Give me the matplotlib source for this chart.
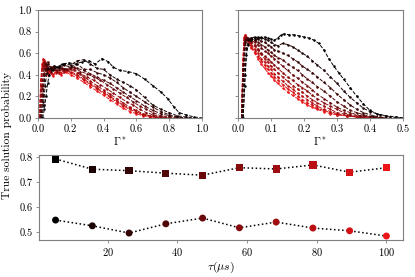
import numpy as np
import matplotlib
matplotlib.use("Agg")
import matplotlib.pyplot as plt
from matplotlib.colors import LinearSegmentedColormap

plt.rcParams['font.family'] = 'serif'
plt.rcParams['font.serif'] = ['cmr10', 'DejaVu Serif']
plt.rcParams['mathtext.fontset'] = 'cm'
plt.rcParams['axes.formatter.use_mathtext'] = True

# ---------------- data ----------------
tau_us = [5.0, 15.56, 26.11, 36.67, 47.22, 57.78, 68.33, 78.89, 89.44, 100.0]
prob_square = [0.793, 0.752, 0.746, 0.736, 0.728, 0.758, 0.753, 0.769, 0.740, 0.758]
prob_circle = [0.548, 0.525, 0.496, 0.533, 0.556, 0.517, 0.540, 0.516, 0.505, 0.484]

left_gamma = [
    [0.03,0.04,0.05,0.06,0.07,0.09,0.12,0.15,0.19,0.23,0.27,0.31,0.35,0.39,0.43,0.46,0.5,0.55,0.6,0.65,0.7,0.75,0.79,0.83,0.86,0.9,0.95,1.0],
    [0.025,0.035,0.045,0.055,0.065,0.08,0.1,0.13,0.16,0.2,0.24,0.28,0.32,0.36,0.4,0.44,0.48,0.52,0.56,0.6,0.65,0.7,0.75,0.8,0.85,0.9,0.95],
    [0.02,0.03,0.04,0.05,0.06,0.08,0.1,0.13,0.16,0.2,0.24,0.28,0.32,0.36,0.4,0.44,0.48,0.52,0.56,0.6,0.65,0.7,0.75,0.8,0.85,0.9],
    [0.02,0.03,0.04,0.05,0.06,0.08,0.1,0.13,0.16,0.2,0.24,0.28,0.32,0.36,0.4,0.44,0.48,0.52,0.56,0.6,0.65,0.7,0.75,0.8,0.85,0.9],
    [0.015,0.025,0.035,0.045,0.055,0.07,0.09,0.12,0.15,0.18,0.22,0.26,0.3,0.34,0.38,0.42,0.46,0.5,0.54,0.58,0.62,0.66,0.7,0.75,0.8,0.85],
    [0.015,0.025,0.035,0.045,0.055,0.07,0.09,0.12,0.15,0.18,0.22,0.26,0.3,0.34,0.38,0.42,0.46,0.5,0.54,0.58,0.62,0.66,0.7,0.75,0.8,0.85],
    [0.012,0.02,0.03,0.04,0.05,0.06,0.08,0.1,0.13,0.16,0.2,0.24,0.28,0.32,0.36,0.4,0.44,0.48,0.52,0.56,0.6,0.64,0.68,0.72,0.78],
    [0.012,0.02,0.03,0.04,0.05,0.06,0.08,0.1,0.13,0.16,0.2,0.24,0.28,0.32,0.36,0.4,0.44,0.48,0.52,0.56,0.6,0.64,0.68,0.72,0.78],
    [0.01,0.018,0.026,0.034,0.042,0.05,0.06,0.075,0.09,0.11,0.14,0.17,0.2,0.24,0.28,0.32,0.36,0.4,0.44,0.48,0.52,0.56,0.6,0.64,0.68,0.72],
    [0.01,0.018,0.026,0.034,0.042,0.05,0.06,0.075,0.09,0.11,0.14,0.17,0.2,0.24,0.28,0.32,0.36,0.4,0.44,0.48,0.52,0.56,0.6,0.64,0.68,0.72],
]
left_prob = [
    [0.0,0.08,0.2,0.32,0.4,0.44,0.47,0.5,0.51,0.5,0.52,0.53,0.5,0.55,0.52,0.47,0.44,0.43,0.41,0.36,0.3,0.24,0.18,0.1,0.05,0.03,0.01,0.0],
    [0.0,0.12,0.3,0.42,0.46,0.45,0.48,0.47,0.5,0.49,0.53,0.54,0.5,0.46,0.45,0.4,0.36,0.33,0.3,0.26,0.19,0.12,0.08,0.05,0.02,0.01,0.0],
    [0.0,0.15,0.35,0.45,0.5,0.46,0.48,0.46,0.49,0.47,0.5,0.45,0.45,0.42,0.4,0.37,0.33,0.28,0.24,0.2,0.15,0.1,0.06,0.03,0.01,0.0],
    [0.0,0.2,0.4,0.5,0.52,0.47,0.46,0.48,0.45,0.47,0.46,0.44,0.41,0.38,0.35,0.32,0.28,0.24,0.2,0.16,0.11,0.07,0.04,0.02,0.01,0.0],
    [0.0,0.22,0.42,0.5,0.48,0.45,0.47,0.44,0.46,0.45,0.47,0.43,0.41,0.38,0.35,0.31,0.27,0.23,0.19,0.15,0.11,0.08,0.05,0.02,0.01,0.0],
    [0.0,0.28,0.46,0.52,0.47,0.44,0.46,0.43,0.45,0.44,0.45,0.41,0.38,0.35,0.31,0.27,0.23,0.19,0.15,0.12,0.08,0.05,0.03,0.01,0.0,0.0],
    [0.0,0.3,0.48,0.52,0.48,0.45,0.43,0.46,0.44,0.43,0.45,0.42,0.38,0.34,0.3,0.26,0.22,0.18,0.14,0.1,0.07,0.04,0.02,0.01,0.0],
    [0.0,0.35,0.5,0.54,0.47,0.44,0.42,0.45,0.42,0.44,0.43,0.4,0.36,0.32,0.28,0.24,0.2,0.16,0.12,0.09,0.06,0.03,0.02,0.01,0.0],
    [0.0,0.3,0.47,0.52,0.5,0.46,0.42,0.44,0.41,0.43,0.42,0.44,0.42,0.39,0.35,0.31,0.27,0.23,0.19,0.15,0.11,0.08,0.05,0.03,0.01,0.0],
    [0.0,0.35,0.5,0.55,0.48,0.44,0.4,0.43,0.39,0.42,0.4,0.43,0.4,0.37,0.33,0.29,0.25,0.21,0.17,0.13,0.09,0.06,0.04,0.02,0.01,0.0],
]

right_gamma = [
    [0.015,0.02,0.025,0.03,0.04,0.05,0.06,0.07,0.08,0.09,0.1,0.11,0.12,0.13,0.14,0.155,0.17,0.185,0.2,0.215,0.23,0.245,0.26,0.275,0.29,0.305,0.32,0.34,0.36,0.38,0.4,0.42,0.45,0.48,0.5],
    [0.015,0.02,0.025,0.03,0.04,0.05,0.06,0.07,0.08,0.09,0.1,0.11,0.12,0.135,0.15,0.165,0.18,0.195,0.21,0.225,0.24,0.26,0.28,0.3,0.32,0.34,0.36,0.38,0.4,0.43,0.46,0.5],
    [0.012,0.017,0.022,0.03,0.04,0.05,0.06,0.07,0.08,0.09,0.1,0.11,0.12,0.135,0.15,0.165,0.18,0.195,0.21,0.225,0.24,0.26,0.28,0.3,0.32,0.34,0.36,0.38,0.41,0.45],
    [0.012,0.017,0.022,0.03,0.04,0.05,0.06,0.07,0.08,0.09,0.1,0.11,0.12,0.135,0.15,0.165,0.18,0.195,0.21,0.225,0.24,0.26,0.28,0.3,0.32,0.34,0.36,0.38,0.41,0.45],
    [0.01,0.015,0.02,0.025,0.03,0.04,0.05,0.06,0.07,0.08,0.09,0.1,0.11,0.12,0.135,0.15,0.165,0.18,0.195,0.21,0.225,0.24,0.26,0.28,0.3,0.32,0.34,0.37,0.4,0.44],
    [0.01,0.015,0.02,0.025,0.03,0.04,0.05,0.06,0.07,0.08,0.09,0.1,0.11,0.12,0.135,0.15,0.165,0.18,0.195,0.21,0.225,0.24,0.26,0.28,0.3,0.32,0.34,0.37,0.4,0.44],
    [0.01,0.014,0.018,0.022,0.027,0.033,0.04,0.05,0.06,0.07,0.08,0.09,0.1,0.11,0.12,0.135,0.15,0.165,0.18,0.195,0.21,0.225,0.24,0.26,0.28,0.3,0.33,0.36,0.4],
    [0.01,0.014,0.018,0.022,0.027,0.033,0.04,0.05,0.06,0.07,0.08,0.09,0.1,0.11,0.12,0.135,0.15,0.165,0.18,0.195,0.21,0.225,0.24,0.26,0.28,0.3,0.33,0.36,0.4],
    [0.01,0.014,0.018,0.022,0.027,0.033,0.04,0.05,0.06,0.07,0.08,0.09,0.1,0.11,0.12,0.135,0.15,0.165,0.18,0.195,0.21,0.225,0.24,0.26,0.28,0.3,0.33,0.36,0.4],
    [0.01,0.014,0.018,0.022,0.027,0.033,0.04,0.05,0.06,0.07,0.08,0.09,0.1,0.11,0.12,0.135,0.15,0.165,0.18,0.195,0.21,0.225,0.24,0.26,0.28,0.3,0.33,0.36,0.4],
]
right_prob = [
    [0.0,0.3,0.58,0.68,0.72,0.74,0.75,0.74,0.75,0.74,0.73,0.72,0.74,0.77,0.78,0.77,0.77,0.76,0.75,0.74,0.72,0.69,0.63,0.55,0.48,0.42,0.36,0.28,0.2,0.13,0.07,0.04,0.02,0.01,0.0],
    [0.0,0.4,0.65,0.72,0.74,0.75,0.74,0.75,0.73,0.72,0.7,0.68,0.67,0.69,0.68,0.66,0.63,0.6,0.57,0.53,0.49,0.44,0.38,0.32,0.25,0.19,0.14,0.09,0.06,0.03,0.01,0.0],
    [0.0,0.45,0.7,0.73,0.74,0.72,0.73,0.71,0.7,0.68,0.66,0.63,0.62,0.6,0.58,0.55,0.52,0.48,0.45,0.42,0.38,0.33,0.28,0.22,0.17,0.12,0.08,0.05,0.02,0.0],
    [0.0,0.5,0.72,0.74,0.73,0.72,0.7,0.68,0.66,0.63,0.61,0.58,0.56,0.54,0.5,0.47,0.44,0.4,0.36,0.33,0.29,0.25,0.2,0.15,0.11,0.07,0.05,0.03,0.01,0.0],
    [0.0,0.45,0.7,0.74,0.73,0.72,0.7,0.68,0.65,0.62,0.6,0.57,0.55,0.52,0.48,0.44,0.4,0.37,0.33,0.3,0.26,0.22,0.18,0.14,0.1,0.07,0.05,0.02,0.01,0.0],
    [0.0,0.5,0.72,0.75,0.72,0.7,0.68,0.64,0.6,0.57,0.55,0.52,0.49,0.46,0.42,0.38,0.35,0.31,0.28,0.25,0.21,0.18,0.14,0.11,0.08,0.05,0.03,0.02,0.01,0.0],
    [0.0,0.4,0.68,0.75,0.74,0.72,0.7,0.67,0.63,0.59,0.55,0.52,0.48,0.45,0.42,0.38,0.34,0.3,0.27,0.24,0.2,0.17,0.14,0.11,0.08,0.05,0.03,0.01,0.0],
    [0.0,0.45,0.72,0.76,0.73,0.71,0.68,0.64,0.6,0.55,0.52,0.48,0.45,0.41,0.38,0.34,0.3,0.27,0.23,0.2,0.17,0.14,0.11,0.08,0.06,0.04,0.02,0.01,0.0],
    [0.0,0.5,0.74,0.77,0.73,0.7,0.66,0.62,0.57,0.53,0.49,0.45,0.42,0.38,0.35,0.31,0.27,0.24,0.2,0.17,0.14,0.12,0.09,0.07,0.05,0.03,0.02,0.01,0.0],
    [0.0,0.55,0.75,0.77,0.72,0.69,0.65,0.6,0.55,0.5,0.46,0.42,0.39,0.35,0.32,0.28,0.24,0.21,0.18,0.15,0.12,0.1,0.08,0.06,0.04,0.03,0.02,0.01,0.0],
]

# ---------------- style ----------------
cmap = LinearSegmentedColormap.from_list("blk_red", ["#000000", "#ee1418"])
n = len(tau_us)
colors = [cmap(i / (n - 1)) for i in range(n)]
spine_col = "#7f7f7f"

fig = plt.figure(figsize=(4.15, 2.77), dpi=100)
ax1 = fig.add_axes([0.091, 0.574, 0.396, 0.390])
ax2 = fig.add_axes([0.574, 0.574, 0.397, 0.390])
ax3 = fig.add_axes([0.094, 0.134, 0.877, 0.306])

def style(ax):
    for s in ax.spines.values():
        s.set_color(spine_col)
        s.set_linewidth(0.8)
    ax.tick_params(labelsize=7.5, length=2.5, width=0.6, color=spine_col, pad=2)

for ax, gx, gy in [(ax1, left_gamma, left_prob), (ax2, right_gamma, right_prob)]:
    for i in range(n - 1, -1, -1):
        ax.plot(gx[i], gy[i], ls='--', lw=0.7, color=colors[i], marker='o', ms=1.8,
                mew=0)
    ax.set_ylim(0, 1)
    ax.set_xlabel(r'$\Gamma^*$', fontsize=8, labelpad=1)
    style(ax)

ax1.set_xlim(0, 1)
ax1.set_xticks([0, 0.2, 0.4, 0.6, 0.8, 1.0])
ax1.set_yticks([0, 0.2, 0.4, 0.6, 0.8, 1.0])
ax1.xaxis.set_major_formatter(matplotlib.ticker.FormatStrFormatter('%.1f'))
ax1.yaxis.set_major_formatter(matplotlib.ticker.FormatStrFormatter('%.1f'))
ax2.set_xlim(0, 0.5)
ax2.set_xticks([0, 0.1, 0.2, 0.3, 0.4, 0.5])
ax2.xaxis.set_major_formatter(matplotlib.ticker.FormatStrFormatter('%.1f'))
ax2.set_yticks([0, 0.2, 0.4, 0.6, 0.8, 1.0])
ax2.set_yticklabels([])

ax3.plot(tau_us, prob_square, ls=':', color='black', lw=1.1, zorder=1)
ax3.plot(tau_us, prob_circle, ls=':', color='black', lw=1.1, zorder=1)
ax3.scatter(tau_us, prob_square, marker='s', s=27, c=colors, zorder=2, linewidths=0)
ax3.scatter(tau_us, prob_circle, marker='o', s=25, c=colors, zorder=2, linewidths=0)
ax3.margins(x=0.05, y=0.05)
ax3.set_xticks([20, 40, 60, 80, 100])
ax3.set_yticks([0.5, 0.6, 0.7, 0.8])
ax3.yaxis.set_major_formatter(matplotlib.ticker.FormatStrFormatter('%.1f'))
ax3.set_xlabel(r'$\tau(\mu s)$', fontsize=8.5, labelpad=1)
style(ax3)

fig.text(0.018, 0.51, 'True solution probability', rotation=90, fontsize=8.3,
         ha='center', va='center')

fig.savefig('out.png', dpi=100)
